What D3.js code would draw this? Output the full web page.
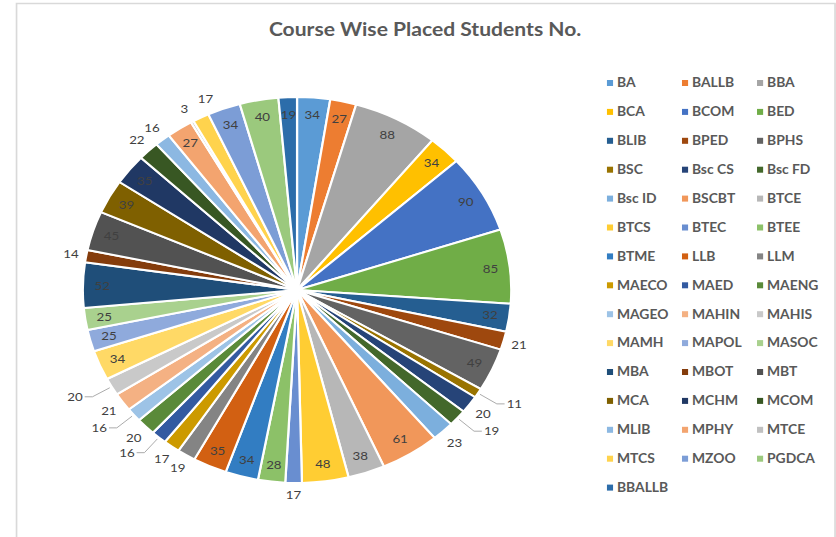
<!DOCTYPE html>
<html lang="en">
<head>
  <meta charset="UTF-8">
  <title>Course Wise Placed Students No.</title>
  <style>
    body { margin: 0; background: #fff; }
    svg { display: block; font-family: Lato, "Open Sans", sans-serif; }
    .title { font-size: 19px; font-weight: bold; fill: #595959; }
    .lbl { font-size: 12px; fill: #404040; }
    .legend text { font-size: 12.5px; font-weight: bold; fill: #595959; }
  </style>
  <script src="https://d3js.org/d3.v7.min.js"></script>
</head>
<body>
  <script>
    // chart data, clockwise from 12 o'clock
    const categories = ["BA", "BALLB", "BBA", "BCA", "BCOM", "BED", "BLIB", "BPED", "BPHS", "BSC",
      "Bsc CS", "Bsc FD", "Bsc ID", "BSCBT", "BTCE", "BTCS", "BTEC", "BTEE", "BTME", "LLB",
      "LLM", "MAECO", "MAED", "MAENG", "MAGEO", "MAHIN", "MAHIS", "MAMH", "MAPOL", "MASOC",
      "MBA", "MBOT", "MBT", "MCA", "MCHM", "MCOM", "MLIB", "MPHY", "MTCE", "MTCS",
      "MZOO", "PGDCA", "BBALLB"];
    const values = [34, 27, 88, 34, 90, 85, 32, 21, 49, 11,
      20, 19, 23, 61, 38, 48, 17, 28, 34, 35,
      19, 17, 16, 20, 16, 21, 20, 34, 25, 25,
      52, 14, 45, 39, 35, 22, 16, 27, 3, 17,
      34, 40, 19];

    // office palette with its tints and shades
    const colors = ["#5B9BD5", "#ED7D31", "#A5A5A5", "#FFC000", "#4472C4", "#70AD47",
      "#255E91", "#9E480E", "#636363", "#997300", "#264478", "#43682B",
      "#7CAFDD", "#F1975A", "#B7B7B7", "#FFCD33", "#698ED0", "#8CC168",
      "#327DC2", "#D26012", "#848484", "#CC9A00", "#335AA1", "#5A8A39",
      "#9DC3E6", "#F4B183", "#C9C9C9", "#FFD966", "#8FAADC", "#A9D18E",
      "#1F4E79", "#843C0C", "#525252", "#7F6000", "#203864", "#385723",
      "#8CB8E2", "#F3A46F", "#C0C0C0", "#FFD34D", "#7C9DD6", "#9BC97D",
      "#2C6DAA"];

    // label placement like excel's best fit
    const insideMin = 24;
    const forceInside = ["BBALLB"];
    const leaderLabels = ["BSC", "Bsc FD", "MAED", "MAGEO", "MAHIS"];

    const data = categories.map((c, i) => ({ name: c, value: values[i], color: colors[i] }));

    // the reference is a bit stretched sideways
    const S = 1.11;
    const svg = d3.select("body").append("svg").attr("width", 836).attr("height", 537);
    const g = svg.append("g").attr("transform", `scale(${S},1)`);

    g.append("rect")
      .attr("x", 14.9).attr("y", 3.5).attr("width", 737.4).attr("height", 600)
      .attr("fill", "none").attr("stroke", "#d9d9d9").attr("stroke-width", 1.5);

    g.append("text").attr("class", "title")
      .attr("x", 383).attr("y", 36).attr("text-anchor", "middle")
      .text("Course Wise Placed Students No.");

    const cx = 267.6, cy = 290, R = 193;
    const pie = d3.pie().sort(null).value(d => d.value);
    const arc = d3.arc().innerRadius(0).outerRadius(R);
    const arcs = pie(data);

    const pg = g.append("g").attr("transform", `translate(${cx},${cy})`);
    pg.selectAll("path")
      .data(arcs)
      .join("path")
      .attr("d", arc)
      .attr("fill", d => d.data.color)
      .attr("stroke", "#fff")
      .attr("stroke-width", 2)
      .attr("stroke-linejoin", "round");

    // boxes of outside labels, to push clashing ones along the rim
    const placed = [];
    const boxOf = (x, y, txt) => ({ x0: x - txt.length * 3.4, x1: x + txt.length * 3.4, y0: y - 6, y1: y + 6 });
    const hits = b => placed.some(p => b.x0 < p.x1 && b.x1 > p.x0 && b.y0 < p.y1 && b.y1 > p.y0);

    arcs.forEach(d => {
      const a = (d.startAngle + d.endAngle) / 2;
      const sx = Math.sin(a), sy = -Math.cos(a);
      const name = d.data.name;
      const txt = String(d.data.value);
      const inside = d.data.value >= insideMin || forceInside.includes(name);
      if (inside) {
        pg.append("text").attr("class", "lbl")
          .attr("x", 0.91 * R * sx).attr("y", 0.91 * R * sy)
          .attr("text-anchor", "middle").attr("dy", "0.35em")
          .text(txt);
      } else if (leaderLabels.includes(name)) {
        const side = sx >= 0 ? 1 : -1;
        const p0 = [(R + 2) * sx, (R + 2) * sy];
        const p1 = [(R + 20) * sx, (R + 20) * sy];
        const p2 = [p1[0] + side * 7, p1[1]];
        pg.append("path")
          .attr("d", d3.line()([p0, p1, p2]))
          .attr("fill", "none").attr("stroke", "#a6a6a6").attr("stroke-width", 0.9);
        const tx = p2[0] + side * (2 + txt.length * 3.4);
        placed.push(boxOf(tx, p2[1], txt));
        pg.append("text").attr("class", "lbl")
          .attr("x", tx).attr("y", p2[1])
          .attr("text-anchor", "middle").attr("dy", "0.35em")
          .text(txt);
      } else {
        const off = 6 + 7 * Math.abs(sx) + 6 * Math.abs(sy);
        let x = (R + off) * sx, y = (R + off) * sy;
        // tangent, clockwise
        const tx = Math.cos(a), ty = Math.sin(a);
        let t = 0;
        while (hits(boxOf(x + t * tx, y + t * ty, txt)) && t < 40) t += 1;
        if (t > 0) t += 10;
        x += t * tx; y += t * ty;
        placed.push(boxOf(x, y, txt));
        pg.append("text").attr("class", "lbl")
          .attr("x", x).attr("y", y)
          .attr("text-anchor", "middle").attr("dy", "0.35em")
          .text(txt);
      }
    });

    // legend, 3 columns
    const lg = g.append("g").attr("class", "legend");
    const item = lg.selectAll("g")
      .data(data)
      .join("g")
      .attr("transform", (d, i) => `translate(${546.8 + (i % 3) * 67.6},${83 + Math.floor(i / 3) * 28.9})`);
    item.append("rect")
      .attr("x", 0).attr("y", -3).attr("width", 5.5).attr("height", 6)
      .attr("fill", d => d.color);
    item.append("text")
      .attr("x", 9).attr("dy", "0.35em")
      .text(d => d.name);
  </script>
</body>
</html>
